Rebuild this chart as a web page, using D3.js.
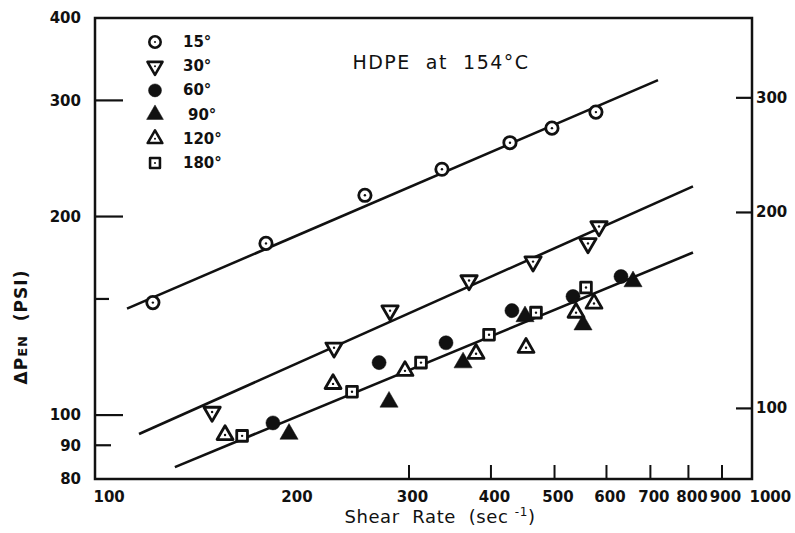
<!DOCTYPE html>
<html>
<head>
<meta charset="utf-8">
<style>
  body { margin: 0; background: #fff; }
  svg text { font-family: "DejaVu Sans", sans-serif; fill: #111; }
  .tick text { font-weight: bold; font-size: 15px; }
  .legend text { font-weight: bold; font-size: 15px; }
</style>
</head>
<body>
<div id="chart"></div>
<script src="https://cdn.jsdelivr.net/npm/d3@7/dist/d3.min.js"></script>
<script>
var width = 795, height = 533;

// die entrance angles and measured points (shear rate in 1/s, pressure drop in psi)
var angles = ["15°", "30°", "60°", "90°", "120°", "180°"];

var rate15 = [122.1, 181.6, 257.0, 336.8, 427.6, 495.5, 578.2];
var dp15 = [148.1, 182.1, 215.4, 235.9, 258.8, 272.3, 288.0];

var rate30 = [150.3, 230.6, 280.7, 370.4, 463.7, 562.3, 584.5];
var dp30 = [101.1, 126.5, 144.0, 160.0, 170.9, 182.1, 193.2];

var rate60 = [186.1, 270.1, 341.6, 430.6, 533.5, 631.4];
var dp60 = [97.3, 120.1, 128.7, 144.0, 151.3, 162.2];

var rate90 = [196.9, 279.7, 362.7, 450.8, 552.6, 658.6];
var dp90 = [93.6, 104.7, 120.1, 141.1, 137.1, 159.4];

var rate120 = [157.3, 229.8, 295.8, 379.6, 452.4, 539.2, 574.3];
var dp120 = [93.3, 111.5, 116.7, 123.9, 126.5, 143.0, 147.6];

var rate180 = [167.0, 245.6, 312.9, 397.3, 468.5, 558.4];
var dp180 = [93.0, 108.5, 120.1, 132.4, 143.0, 156.1];

// fitted lines: 15°, 30°, and the common line for 60°-180°
var fitRate = [[111.5, 719], [116.3, 812.9], [131.9, 812.9]];
var fitDp = [[145.0, 322], [93.6, 222.2], [83.4, 176.4]];

var xTicks = [100, 200, 300, 400, 500, 600, 700, 800, 900, 1000];
var yTicksLeft = [80, 90, 100, 200, 300, 400];
var yTicksRight = [100, 200, 300];

var series = [
  {rate: rate15, dp: dp15, shape: "circle", filled: false},
  {rate: rate30, dp: dp30, shape: "down", filled: false},
  {rate: rate60, dp: dp60, shape: "circle", filled: true},
  {rate: rate90, dp: dp90, shape: "up", filled: true},
  {rate: rate120, dp: dp120, shape: "up", filled: false},
  {rate: rate180, dp: dp180, shape: "square", filled: false}
];

var x = d3.scaleLog().domain([100, 1000]).range([96, 752]);
var y = d3.scaleLog().domain([80, 400]).range([479, 18]);
var yR = d3.scaleLog().domain([80, 400]).range([471, 16]);

var svg = d3.select("#chart").append("svg")
  .attr("width", width)
  .attr("height", height);

// frame
svg.append("rect")
  .attr("x", x(100) - 1)
  .attr("y", y(400))
  .attr("width", x(1000) - x(100) + 1)
  .attr("height", y(80) - y(400))
  .attr("fill", "none")
  .attr("stroke", "#111")
  .attr("stroke-width", 2.5);

// left axis labels
var gl = svg.append("g")
  .attr("transform", "translate(" + (x(100) - 1) + ",0)")
  .call(d3.axisLeft(y).tickValues(yTicksLeft).tickSize(0).tickPadding(14).tickFormat(d3.format("d")));
gl.select(".domain").remove();

// left tick marks (long major, short minor)
svg.append("g").selectAll("line")
  .data([[100, 27], [200, 27], [300, 27], [90, 15], [150, 13]])
  .enter().append("line")
  .attr("x1", x(100))
  .attr("x2", function (d) { return x(100) + d[1]; })
  .attr("y1", function (d) { return y(d[0]); })
  .attr("y2", function (d) { return y(d[0]); })
  .attr("stroke", "#111")
  .attr("stroke-width", 2.2);

// bottom axis
var gb = svg.append("g")
  .attr("transform", "translate(0," + y(80) + ")")
  .call(d3.axisBottom(x).tickValues(xTicks).tickSize(0).tickPadding(12).tickFormat(d3.format("d")));
gb.select(".domain").remove();
gb.selectAll(".tick text")
  .attr("text-anchor", function (d) { return d === 100 || d === 1000 ? "start" : "middle"; })
  .attr("dx", function (d) { return d === 100 || d === 1000 ? -3 : 3; });

svg.append("g").selectAll("line")
  .data(xTicks.filter(function (d) { return d >= 300 && d <= 900; }))
  .enter().append("line")
  .attr("x1", function (d) { return x(d); })
  .attr("x2", function (d) { return x(d); })
  .attr("y1", y(80))
  .attr("y2", y(80) - 14)
  .attr("stroke", "#111")
  .attr("stroke-width", 2);

// right axis, slightly offset scale as in the original plot
var gr = svg.append("g")
  .attr("transform", "translate(" + x(1000) + ",0)")
  .call(d3.axisRight(yR).tickValues(yTicksRight).tickSize(-16).tickPadding(4).tickFormat(d3.format("d")));
gr.select(".domain").remove();
gr.selectAll(".tick line").attr("stroke", "#111").attr("stroke-width", 2.2);

// fitted lines
var line = d3.line()
  .x(function (d) { return x(d[0]); })
  .y(function (d) { return y(d[1]); });

svg.append("g").selectAll("path")
  .data(fitRate.map(function (r, i) { return [[r[0], fitDp[i][0]], [r[1], fitDp[i][1]]]; }))
  .enter().append("path")
  .attr("d", line)
  .attr("fill", "none")
  .attr("stroke", "#111")
  .attr("stroke-width", 2.6);

// markers
var sizes = {circle: 120, down: 115, up: 110, square: 115};
function symbolFor(s, k) {
  var type = s.shape === "circle" ? d3.symbolCircle
    : s.shape === "square" ? d3.symbolSquare : d3.symbolTriangle;
  var size = sizes[s.shape] * (s.filled ? 1.3 : 1) * k;
  return d3.symbol().type(type).size(size)();
}

function drawMarker(g, s, k) {
  g.append("path")
    .attr("d", symbolFor(s, k))
    .attr("transform", s.shape === "down" ? "rotate(180)" : null)
    .attr("fill", s.filled ? "#111" : "#fff")
    .attr("stroke", "#111")
    .attr("stroke-linejoin", "round")
    .attr("stroke-width", s.filled ? 0.5 : 2.8 * Math.sqrt(k));
  if (!s.filled) {
    g.append("circle").attr("r", 1.2 * k).attr("fill", "#111");
  }
}

series.forEach(function (s) {
  svg.append("g").selectAll("g")
    .data(s.rate.map(function (r, i) { return [r, s.dp[i]]; }))
    .enter().append("g")
    .attr("transform", function (d) { return "translate(" + x(d[0]) + "," + y(d[1]) + ")"; })
    .each(function () { drawMarker(d3.select(this), s, 1); });
});

// legend
var ly = d3.scalePoint().domain(angles).range([42, 163]);
var legend = svg.append("g").attr("class", "legend");
angles.forEach(function (a, i) {
  var g = legend.append("g").attr("transform", "translate(155," + ly(a) + ")");
  drawMarker(g, series[i], 0.85);
  legend.append("text")
    .attr("x", a === "90°" ? 188 : 183)
    .attr("y", ly(a) + 5)
    .text(a);
});

// titles
svg.append("text")
  .attr("x", 441)
  .attr("y", 69)
  .attr("text-anchor", "middle")
  .style("font-size", "19px")
  .style("letter-spacing", "1.5px")
  .style("white-space", "pre")
  .text("HDPE  at  154°C");

var xt = svg.append("text")
  .attr("x", 440)
  .attr("y", 523)
  .attr("text-anchor", "middle")
  .style("font-size", "18px")
  .style("letter-spacing", "0.6px")
  .style("white-space", "pre");
xt.append("tspan").text("Shear  Rate  (sec ");
xt.append("tspan").attr("dy", -7).style("font-size", "12px").text("-1");
xt.append("tspan").attr("dy", 7).text(")");

var yt = svg.append("text")
  .attr("transform", "translate(27,327) rotate(-90)")
  .attr("text-anchor", "middle")
  .style("font-size", "17px")
  .style("font-weight", "bold")
  .style("letter-spacing", "1px")
  .style("white-space", "pre");
yt.append("tspan").text("\u0394P");
yt.append("tspan").style("font-size", "13px").text("EN");
yt.append("tspan").text("  (PSI)");
</script>
</body>
</html>
